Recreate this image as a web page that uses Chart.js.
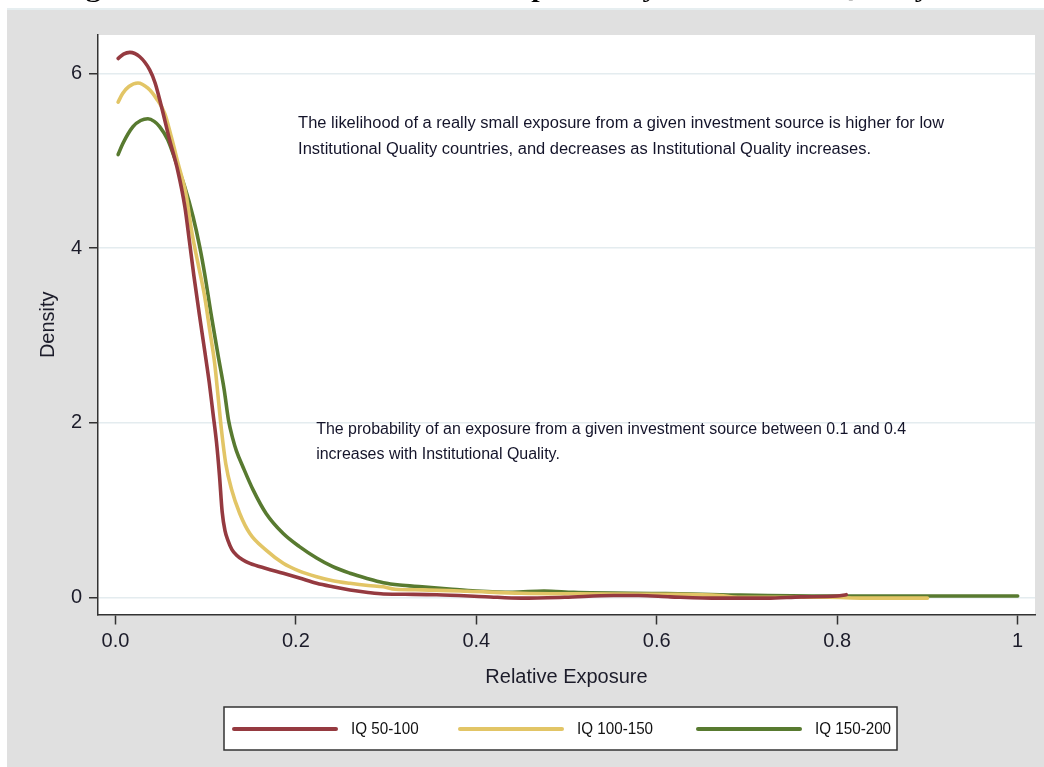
<!DOCTYPE html>
<html><head><meta charset="utf-8">
<script src="https://cdn.jsdelivr.net/npm/chart.js@4.4.1/dist/chart.umd.min.js"></script>
<style>html,body{margin:0;padding:0;background:#fff;}#wrap{width:1044px;height:767px;}</style>
</head><body><div id="wrap"><canvas id="c" width="1044" height="767"></canvas></div>
<script>
// ---- data ----
const seriesLabels = ['IQ 50-100', 'IQ 100-150', 'IQ 150-200'];

const iq50X = [0.003,0.009,0.016,0.027,0.038,0.044,0.051,0.060,0.069,0.077,0.082,0.087,0.093,0.099,0.104,0.108,0.112,0.1153,0.1183,0.1215,0.1248,0.129,0.134,0.141,0.149,0.167,0.186,0.204,0.223,0.241,0.26,0.28,0.297,0.33,0.356,0.41,0.45,0.498,0.552,0.58,0.615,0.669,0.694,0.722,0.76,0.80,0.81];
const iq50Y = [6.17,6.22,6.24,6.19,6.04,5.89,5.62,5.24,4.89,4.47,4.08,3.68,3.24,2.82,2.46,2.12,1.78,1.40,0.98,0.76,0.65,0.55,0.485,0.43,0.389,0.33,0.275,0.22,0.16,0.12,0.084,0.055,0.038,0.034,0.03,0.007,-0.01,0.0,0.02,0.02,0.005,-0.01,-0.01,-0.01,0.005,0.015,0.03];

const iq100X = [0.003,0.008,0.015,0.025,0.036,0.0455,0.0547,0.062,0.0694,0.0787,0.0842,0.0916,0.099,0.1045,0.110,0.1138,0.1175,0.1223,0.1286,0.1378,0.149,0.167,0.186,0.204,0.223,0.241,0.26,0.28,0.297,0.31,0.34,0.39,0.45,0.51,0.61,0.67,0.69,0.79,0.83,0.90];
const iq100Y = [5.67,5.77,5.85,5.89,5.83,5.71,5.54,5.27,4.97,4.59,4.21,3.82,3.44,3.06,2.68,2.30,1.92,1.53,1.24,0.96,0.73,0.54,0.39,0.30,0.236,0.19,0.16,0.135,0.12,0.092,0.085,0.07,0.046,0.04,0.035,0.02,0.0,0.0,-0.01,-0.01];

const iq150X = [0.003,0.0084,0.0195,0.028,0.036,0.043,0.049,0.058,0.0676,0.0768,0.086,0.0935,0.099,0.1064,0.1138,0.1205,0.1255,0.130,0.134,0.1415,0.1526,0.167,0.186,0.204,0.223,0.241,0.26,0.278,0.297,0.315,0.34,0.37,0.40,0.44,0.475,0.508,0.61,0.67,0.79,1.0];
const iq150Y = [5.07,5.20,5.39,5.46,5.48,5.45,5.39,5.24,4.97,4.70,4.36,4.01,3.70,3.22,2.77,2.38,2.02,1.82,1.68,1.49,1.23,0.96,0.73,0.58,0.45,0.35,0.275,0.218,0.167,0.14,0.12,0.095,0.072,0.057,0.072,0.057,0.042,0.03,0.015,0.015];

const xTickValues = [0, 0.2, 0.4, 0.6, 0.8, 1];
const xTickLabels = ['0.0', '0.2', '0.4', '0.6', '0.8', '1'];
const yTickValues = [0, 2, 4, 6];
const yTickLabels = ['0', '2', '4', '6'];

const titleText = 'Figure 4: Distribution of Relative Exposure by Institutional Quality levels';
const xAxisTitle = 'Relative Exposure';
const yAxisTitle = 'Density';
const note1 = ['The likelihood of a really small exposure from a given investment source is higher for low',
               'Institutional Quality countries, and decreases as Institutional Quality increases.'];
const note2 = ['The probability of an exposure from a given investment source between 0.1 and 0.4',
               'increases with Institutional Quality.'];
// annotation anchors in data units [x, y of first line, y of second line]
const note1Pos = [0.2025, 5.42, 5.13];
const note2Pos = [0.2225, 1.92, 1.63];

// ---- styles ----
const colors = ['#953a40', '#e2c566', '#587a30'];
const SANS = '"Liberation Sans", Arial, sans-serif';

function pts(xs, ys) { return xs.map((x, i) => ({x: x, y: ys[i]})); }

const bgPlugin = {
  id: 'bg',
  beforeDraw(chart) {
    const ctx = chart.ctx, a = chart.chartArea;
    ctx.save();
    ctx.fillStyle = '#ffffff';
    ctx.fillRect(0, 0, chart.width, chart.height);
    // clipped figure title at the very top
    ctx.fillStyle = '#000';
    ctx.font = 'bold 24px "Liberation Serif", "Times New Roman", serif';
    ctx.textBaseline = 'alphabetic';
    ctx.textAlign = 'left';
    const w = ctx.measureText(titleText).width;
    ctx.save();
    ctx.translate(59, -3);
    ctx.scale(949 / w, 1);
    ctx.fillText(titleText, 0, 0);
    ctx.restore();
    ctx.fillStyle = '#e6eef0';
    ctx.fillRect(7, 8, chart.width - 7, 2);
    ctx.fillStyle = '#e0e0e0';
    ctx.fillRect(7, 10, chart.width - 7, chart.height - 10);
    ctx.fillStyle = '#ffffff';
    ctx.fillRect(a.left, a.top, a.right - a.left, a.bottom - a.top);
    ctx.restore();
  }
};

function drawBlock(ctx, lines, x, y1, y2, targetW) {
  ctx.font = '16px ' + SANS;
  const w = ctx.measureText(lines[0]).width;
  const s = targetW / w;
  [y1, y2].forEach((y, i) => {
    ctx.save();
    ctx.translate(x, y);
    ctx.scale(s, 1);
    ctx.fillText(lines[i], 0, 0);
    ctx.restore();
  });
}

const overlayPlugin = {
  id: 'overlay',
  afterDraw(chart) {
    const ctx = chart.ctx;
    const xs = chart.scales.x, ys = chart.scales.y;
    ctx.save();
    ctx.fillStyle = '#14142a';
    ctx.textBaseline = 'middle';
    ctx.textAlign = 'left';
    drawBlock(ctx, note1, xs.getPixelForValue(note1Pos[0]), ys.getPixelForValue(note1Pos[1]), ys.getPixelForValue(note1Pos[2]), 646);
    drawBlock(ctx, note2, xs.getPixelForValue(note2Pos[0]), ys.getPixelForValue(note2Pos[1]), ys.getPixelForValue(note2Pos[2]), 590);

    // legend
    const bx = 224, by = 707, bw = 673, bh = 43;
    ctx.fillStyle = '#ffffff';
    ctx.fillRect(bx, by, bw, bh);
    ctx.strokeStyle = '#333';
    ctx.lineWidth = 1.5;
    ctx.strokeRect(bx, by, bw, bh);
    const cy = by + 22;
    const lineStarts = [234, 460, 698];
    ctx.font = '16px ' + SANS;
    chart.data.datasets.forEach((ds, i) => {
      const x0 = lineStarts[i];
      ctx.strokeStyle = ds.borderColor;
      ctx.lineWidth = 4;
      ctx.lineCap = 'round';
      ctx.beginPath();
      ctx.moveTo(x0, cy);
      ctx.lineTo(x0 + 102, cy);
      ctx.stroke();
      ctx.fillStyle = '#111';
      ctx.save();
      ctx.translate(x0 + 117, cy + 1);
      ctx.scale(0.95, 1);
      ctx.fillText(ds.label, 0, 0);
      ctx.restore();
    });
    ctx.restore();
  }
};

const datasets = [
  {label: seriesLabels[0], data: pts(iq50X, iq50Y), borderColor: colors[0]},
  {label: seriesLabels[1], data: pts(iq100X, iq100Y), borderColor: colors[1]},
  {label: seriesLabels[2], data: pts(iq150X, iq150Y), borderColor: colors[2]}
].map(d => Object.assign(d, {borderWidth: 3.6, pointRadius: 0, fill: false, cubicInterpolationMode: 'monotone', showLine: true, borderCapStyle: 'round', borderJoinStyle: 'round'}));

new Chart(document.getElementById('c'), {
  type: 'scatter',
  data: {datasets: datasets},
  plugins: [bgPlugin, overlayPlugin],
  options: {
    responsive: false,
    animation: false,
    devicePixelRatio: 1,
    layout: {padding: {left: 0, right: 9, top: 35, bottom: 0}},
    plugins: {legend: {display: false}, tooltip: {enabled: false}},
    scales: {
      x: {
        type: 'linear', min: -0.0193, max: 1.0192,
        afterFit(s) { s.height = 152.5; },
        afterBuildTicks(s) { s.ticks = xTickValues.map(v => ({value: v})); },
        grid: {drawOnChartArea: false, tickLength: 10, tickColor: '#333', tickWidth: 1.5},
        border: {color: '#333', width: 1.5},
        ticks: {
          autoSkip: false, maxRotation: 0, padding: 5, color: '#1c1c2a',
          font: {family: SANS, size: 20},
          callback: (v) => xTickLabels[xTickValues.indexOf(v)]
        },
        title: {display: true, text: xAxisTitle, color: '#1c1c2a', font: {family: SANS, size: 20}, padding: {top: 0, bottom: 78}}
      },
      y: {
        type: 'linear', min: -0.197, max: 6.439,
        afterFit(s) { s.width = 98; },
        afterBuildTicks(s) { s.ticks = yTickValues.map(v => ({value: v})); },
        grid: {color: '#e4ecef', lineWidth: 1.5, tickLength: 9, tickColor: '#333', tickWidth: 1.5},
        border: {color: '#333', width: 1.5},
        ticks: {
          padding: 7, color: '#1c1c2a',
          font: {family: SANS, size: 20},
          callback: (v) => yTickLabels[yTickValues.indexOf(v)]
        },
        title: {display: true, text: yAxisTitle, color: '#1c1c2a', font: {family: SANS, size: 20}, padding: {top: 36, bottom: 0}}
      }
    }
  }
});
</script>
</body></html>
